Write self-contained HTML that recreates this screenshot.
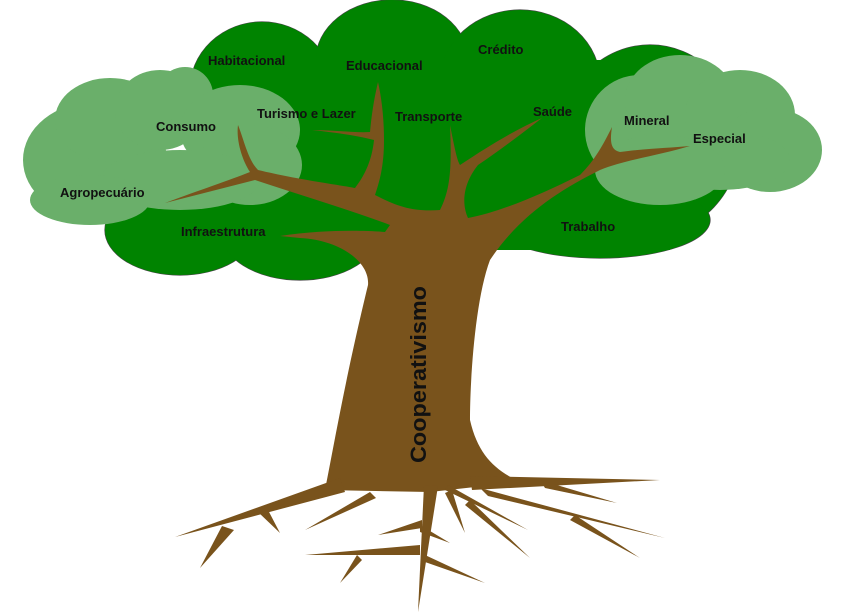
<!DOCTYPE html>
<html><head><meta charset="utf-8"><style>
html,body{margin:0;padding:0;background:#fff;width:852px;height:616px;overflow:hidden}
svg{display:block}
text{font-family:"Liberation Sans","DejaVu Sans",sans-serif;font-weight:bold;font-size:13px;fill:#111}
</style></head><body>
<svg width="852" height="616" viewBox="0 0 852 616" xmlns="http://www.w3.org/2000/svg">
<g fill="#008300" stroke="#444" stroke-width="1.2">
<ellipse cx="262" cy="90" rx="72" ry="68"/>
<ellipse cx="392" cy="60" rx="76" ry="60"/>
<ellipse cx="520" cy="82" rx="80" ry="72"/>
<ellipse cx="650" cy="140" rx="90" ry="95"/>
<ellipse cx="180" cy="230" rx="75" ry="45"/>
<ellipse cx="300" cy="230" rx="80" ry="50"/>
<ellipse cx="600" cy="220" rx="110" ry="38"/>
</g>
<g fill="#008300">
<ellipse cx="262" cy="90" rx="72" ry="68"/>
<ellipse cx="392" cy="60" rx="76" ry="60"/>
<ellipse cx="520" cy="82" rx="80" ry="72"/>
<ellipse cx="650" cy="140" rx="90" ry="95"/>
<ellipse cx="180" cy="230" rx="75" ry="45"/>
<ellipse cx="300" cy="230" rx="80" ry="50"/>
<ellipse cx="600" cy="220" rx="110" ry="38"/>
<rect x="200" y="60" width="470" height="190"/>
</g>
<g fill="#6aaf6a">
<ellipse cx="95" cy="160" rx="72" ry="58"/>
<ellipse cx="110" cy="120" rx="55" ry="42"/>
<ellipse cx="160" cy="110" rx="45" ry="40"/>
<ellipse cx="185" cy="95" rx="28" ry="28"/>
<ellipse cx="240" cy="130" rx="60" ry="45"/>
<ellipse cx="250" cy="165" rx="52" ry="40"/>
<ellipse cx="180" cy="180" rx="80" ry="30"/>
<ellipse cx="90" cy="200" rx="60" ry="25"/>
<ellipse cx="640" cy="130" rx="55" ry="55"/>
<ellipse cx="680" cy="100" rx="55" ry="45"/>
<ellipse cx="740" cy="115" rx="55" ry="45"/>
<ellipse cx="770" cy="150" rx="52" ry="42"/>
<ellipse cx="720" cy="160" rx="70" ry="30"/>
<ellipse cx="660" cy="170" rx="65" ry="35"/>
</g>
<g fill="#79531c">
<path d="M325,490 C335,440 345,380 368,285 C370,262 340,240 300,238 L280,236 C320,230 360,230 385,232 L390,225 C350,210 300,195 255,180 L165,203 C200,190 230,180 250,172 C242,160 236,140 238,125 C244,140 248,160 258,170 C300,180 340,185 355,188 C365,175 372,160 374,140 C355,135 330,132 312,130 C335,130 355,133 370,132 C372,110 375,95 378,82 C382,100 384,120 384,140 C384,165 380,180 375,195 C395,205 410,212 440,210 C450,190 452,170 450,125 C455,150 457,160 460,165 C490,145 515,130 542,118 C520,135 500,150 478,165 C462,185 462,205 468,218 C500,212 540,195 580,175 C595,160 603,145 612,127 C610,140 610,150 620,152 C650,148 670,148 690,146 C660,155 625,160 600,170 C560,190 520,215 490,260 C475,300 470,380 470,420 C478,455 495,470 520,482 L430,492 Z"/>
<polygon points="175,537 340,478 345,492"/>
<polygon points="200,568 222,526 234,530"/>
<polygon points="280,533 258,512 268,510"/>
<polygon points="305,530 370,492 376,498"/>
<polygon points="418,612 424,485 438,486"/>
<polygon points="378,535 422,520 422,528"/>
<polygon points="450,543 420,525 420,532"/>
<polygon points="305,555 420,545 420,555"/>
<polygon points="340,583 357,555 362,560"/>
<polygon points="485,583 425,555 425,562"/>
<polygon points="660,480 470,476 472,490"/>
<polygon points="617,503 540,480 545,488"/>
<polygon points="665,538 480,488 488,496"/>
<polygon points="640,558 570,520 575,515"/>
<polygon points="528,530 445,490 448,485"/>
<polygon points="530,558 465,505 470,500"/>
<polygon points="465,533 445,493 452,490"/>
</g>
<text x="208" y="65">Habitacional</text>
<text x="346" y="70">Educacional</text>
<text x="478" y="54">Crédito</text>
<text x="257" y="118">Turismo e Lazer</text>
<text x="395" y="121">Transporte</text>
<text x="533" y="116">Saúde</text>
<text x="156" y="131">Consumo</text>
<text x="624" y="125">Mineral</text>
<text x="693" y="143">Especial</text>
<text x="60" y="197">Agropecuário</text>
<text x="181" y="236">Infraestrutura</text>
<text x="561" y="231">Trabalho</text>
<text transform="translate(426,463) rotate(-90)" style="font-size:22px" textLength="177" lengthAdjust="spacingAndGlyphs">Cooperativismo</text>
</svg>
</body></html>
